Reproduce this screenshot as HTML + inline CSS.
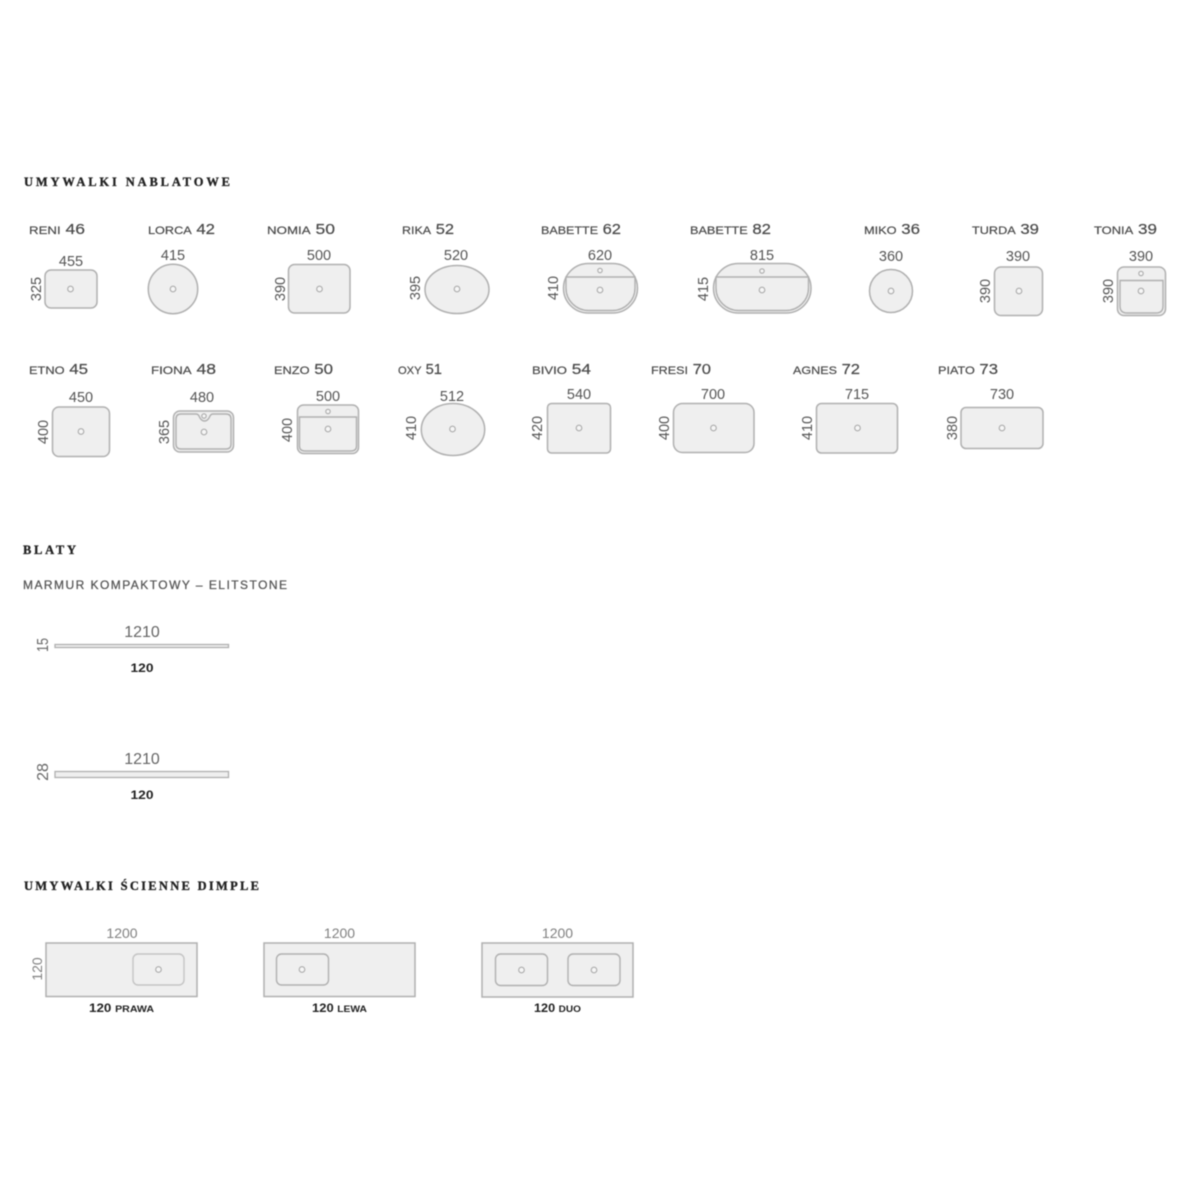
<!DOCTYPE html>
<html lang="pl">
<head>
<meta charset="utf-8">
<title>Umywalki</title>
<style>
html,body{margin:0;padding:0;background:#fff;width:1200px;height:1200px;overflow:hidden}
svg{display:block;filter:blur(.45px)}
text{font-family:"Liberation Sans",sans-serif;fill:#4a4a4a}
.h{font-family:"Liberation Serif",serif;font-weight:700;font-size:12.5px;fill:#222;stroke:#222;stroke-width:.3}
.n{font-size:14.5px;stroke:#4a4a4a;stroke-width:.2}
.n tspan{font-size:11px}
.t{font-size:12px;fill:#555;stroke:#555;stroke-width:.25}
.d{font-size:14.5px;text-anchor:middle;fill:#555}
.l{font-size:16px;text-anchor:middle;fill:#666}
.m{font-size:14px;text-anchor:middle;fill:#808080}
.b{font-size:12px;font-weight:700;text-anchor:middle;fill:#222}
.b tspan{font-size:9.5px}
.s{fill:#efefef;stroke:#b0b0b0;stroke-width:1.5}
.i{fill:none;stroke:#b0b0b0;stroke-width:1.4}
.o{fill:#f6f6f6;stroke:#aaa;stroke-width:1.1}
</style>
</head>
<body>
<svg xmlns="http://www.w3.org/2000/svg" width="1200" height="1200" viewBox="0 0 1200 1200">
<rect width="1200" height="1200" fill="#fff"/>

<!-- Headings -->
<text class="h" x="24" y="186" textLength="206">UMYWALKI NABLATOWE</text>
<text class="h" x="23" y="554" textLength="53">BLATY</text>
<text class="t" x="23" y="589" textLength="264">MARMUR KOMPAKTOWY – ELITSTONE</text>
<text class="h" x="24" y="890" textLength="235">UMYWALKI ŚCIENNE DIMPLE</text>

<!-- Row 1 names -->
<text class="n" x="29" y="234" textLength="56" lengthAdjust="spacingAndGlyphs"><tspan>RENI</tspan> 46</text>
<text class="n" x="148" y="234" textLength="67" lengthAdjust="spacingAndGlyphs"><tspan>LORCA</tspan> 42</text>
<text class="n" x="267" y="234" textLength="68" lengthAdjust="spacingAndGlyphs"><tspan>NOMIA</tspan> 50</text>
<text class="n" x="402" y="234" textLength="52" lengthAdjust="spacingAndGlyphs"><tspan>RIKA</tspan> 52</text>
<text class="n" x="541" y="234" textLength="80" lengthAdjust="spacingAndGlyphs"><tspan>BABETTE</tspan> 62</text>
<text class="n" x="690" y="234" textLength="81" lengthAdjust="spacingAndGlyphs"><tspan>BABETTE</tspan> 82</text>
<text class="n" x="864" y="234" textLength="56" lengthAdjust="spacingAndGlyphs"><tspan>MIKO</tspan> 36</text>
<text class="n" x="972" y="234" textLength="67" lengthAdjust="spacingAndGlyphs"><tspan>TURDA</tspan> 39</text>
<text class="n" x="1094" y="234" textLength="63" lengthAdjust="spacingAndGlyphs"><tspan>TONIA</tspan> 39</text>

<!-- Row 2 names -->
<text class="n" x="29" y="374" textLength="59" lengthAdjust="spacingAndGlyphs"><tspan>ETNO</tspan> 45</text>
<text class="n" x="151" y="374" textLength="65" lengthAdjust="spacingAndGlyphs"><tspan>FIONA</tspan> 48</text>
<text class="n" x="274" y="374" textLength="59" lengthAdjust="spacingAndGlyphs"><tspan>ENZO</tspan> 50</text>
<text class="n" x="398" y="374" textLength="44" lengthAdjust="spacingAndGlyphs"><tspan>OXY</tspan> 51</text>
<text class="n" x="532" y="374" textLength="59" lengthAdjust="spacingAndGlyphs"><tspan>BIVIO</tspan> 54</text>
<text class="n" x="651" y="374" textLength="60" lengthAdjust="spacingAndGlyphs"><tspan>FRESI</tspan> 70</text>
<text class="n" x="793" y="374" textLength="67" lengthAdjust="spacingAndGlyphs"><tspan>AGNES</tspan> 72</text>
<text class="n" x="938" y="374" textLength="60" lengthAdjust="spacingAndGlyphs"><tspan>PIATO</tspan> 73</text>

<!-- Row 1 widths -->
<text class="d" x="71" y="266">455</text>
<text class="d" x="173" y="260">415</text>
<text class="d" x="319" y="260">500</text>
<text class="d" x="456" y="260">520</text>
<text class="d" x="600" y="260">620</text>
<text class="d" x="762" y="260">815</text>
<text class="d" x="891" y="261">360</text>
<text class="d" x="1018" y="261">390</text>
<text class="d" x="1141" y="261">390</text>

<!-- Row 1 heights -->
<text class="d" transform="translate(41,289) rotate(-90)">325</text>
<text class="d" transform="translate(285,289) rotate(-90)">390</text>
<text class="d" transform="translate(420,288) rotate(-90)">395</text>
<text class="d" transform="translate(558,288) rotate(-90)">410</text>
<text class="d" transform="translate(708,289) rotate(-90)">415</text>
<text class="d" transform="translate(990,291) rotate(-90)">390</text>
<text class="d" transform="translate(1113,291) rotate(-90)">390</text>

<!-- Row 2 widths -->
<text class="d" x="81" y="402">450</text>
<text class="d" x="202" y="402">480</text>
<text class="d" x="328" y="401">500</text>
<text class="d" x="452" y="401">512</text>
<text class="d" x="579" y="399">540</text>
<text class="d" x="713" y="399">700</text>
<text class="d" x="857" y="399">715</text>
<text class="d" x="1002" y="399">730</text>

<!-- Row 2 heights -->
<text class="d" transform="translate(48,432) rotate(-90)">400</text>
<text class="d" transform="translate(169,432) rotate(-90)">365</text>
<text class="d" transform="translate(292,430) rotate(-90)">400</text>
<text class="d" transform="translate(416,428) rotate(-90)">410</text>
<text class="d" transform="translate(542,428) rotate(-90)">420</text>
<text class="d" transform="translate(669,428) rotate(-90)">400</text>
<text class="d" transform="translate(812,428) rotate(-90)">410</text>
<text class="d" transform="translate(957,428) rotate(-90)">380</text>

<!-- Row 1 shapes -->
<rect class="s" x="45" y="270" width="52" height="38" rx="6"/>
<circle class="o" cx="70.5" cy="289" r="2.8"/>

<circle class="s" cx="173" cy="289" r="24.7"/>
<circle class="o" cx="173" cy="289" r="2.8"/>

<rect class="s" x="288.5" y="264.5" width="61.5" height="48.5" rx="6"/>
<circle class="o" cx="319.5" cy="289" r="2.8"/>

<ellipse class="s" cx="457" cy="289.5" rx="32" ry="24"/>
<circle class="o" cx="457" cy="289" r="2.8"/>

<rect class="s" x="563.5" y="263.5" width="74" height="49.5" rx="24.7"/>
<path class="i" d="M566 277H635V288A22.500 22.500 0 0 1 612.500 310.500H588.500A22.500 22.500 0 0 1 566 288Z"/>
<circle class="o" cx="600" cy="270.500" r="2.200"/>
<circle class="o" cx="600" cy="290" r="2.800"/>

<rect class="s" x="713.500" y="263.500" width="97.500" height="49.500" rx="24.700"/>
<path class="i" d="M716 277H808.500V288A22.500 22.500 0 0 1 786 310.500H738.500A22.500 22.500 0 0 1 716 288Z"/>
<circle class="o" cx="762" cy="271" r="2.200"/>
<circle class="o" cx="762" cy="290" r="2.800"/>

<circle class="s" cx="891" cy="291" r="21.500"/>
<circle class="o" cx="891" cy="291" r="2.800"/>

<rect class="s" x="994.500" y="267" width="48" height="48.500" rx="6.500"/>
<circle class="o" cx="1019" cy="291" r="2.800"/>

<rect class="s" x="1117.500" y="267" width="48" height="48.500" rx="6.500"/>
<path class="i" d="M1120 280.500H1163V306Q1163 313 1156 313H1127Q1120 313 1120 306Z"/>
<circle class="o" cx="1141" cy="273.500" r="2.200"/>
<circle class="o" cx="1141" cy="291" r="2.800"/>

<!-- Row 2 shapes -->
<rect class="s" x="52.500" y="407" width="57" height="49.500" rx="6.500"/>
<circle class="o" cx="81" cy="431.500" r="2.800"/>

<rect class="s" x="173.500" y="411" width="60" height="41" rx="6.500"/>
<path class="i" d="M181 414H196Q198 414 199 416Q201 421 204.500 421Q208 421 210 416Q211 414 213 414H226Q231 414 231 419V444Q231 449 226 449H181Q176 449 176 444V419Q176 414 181 414Z"/>
<circle class="o" cx="204" cy="416" r="2.200"/>
<circle class="o" cx="204" cy="432" r="2.800"/>

<rect class="s" x="297.500" y="405" width="61" height="48.500" rx="6"/>
<path class="i" d="M299.500 417H356.500V446Q356.500 451 351 451H305Q299.500 451 299.500 446Z"/>
<circle class="o" cx="328" cy="411.500" r="2.200"/>
<circle class="o" cx="328" cy="429" r="2.800"/>

<ellipse class="s" cx="453" cy="429.500" rx="31.700" ry="26"/>
<circle class="o" cx="452.500" cy="429" r="2.800"/>

<rect class="s" x="547.500" y="403.500" width="63" height="49.500" rx="4"/>
<circle class="o" cx="579" cy="428" r="2.800"/>

<rect class="s" x="673.500" y="403.500" width="80.500" height="49" rx="9"/>
<circle class="o" cx="713.500" cy="428" r="2.800"/>

<rect class="s" x="816.500" y="403.500" width="81" height="49.500" rx="5"/>
<circle class="o" cx="857.500" cy="428" r="2.800"/>

<rect class="s" x="961" y="407.500" width="82" height="41" rx="5"/>
<circle class="o" cx="1002" cy="428" r="2.800"/>

<!-- Blaty -->
<text class="l" x="142" y="637">1210</text>
<text class="l" transform="translate(48,645) rotate(-90)" textLength="14" lengthAdjust="spacingAndGlyphs">15</text>
<rect x="55" y="644.500" width="173.500" height="3" fill="#efefef" stroke="#b0b0b0" stroke-width="1.300"/>
<text class="b" x="142" y="672" textLength="23" lengthAdjust="spacingAndGlyphs">120</text>

<text class="l" x="142" y="764">1210</text>
<text class="l" transform="translate(48,772) rotate(-90)">28</text>
<rect x="55" y="771.500" width="173.500" height="6" fill="#efefef" stroke="#b0b0b0" stroke-width="1.300"/>
<text class="b" x="142" y="799" textLength="23" lengthAdjust="spacingAndGlyphs">120</text>

<!-- Dimple -->
<text class="m" x="122" y="938">1200</text>
<text class="m" transform="translate(42,969) rotate(-90)">120</text>
<rect class="s" x="46" y="943" width="151" height="53.500"/>
<rect class="i" style="stroke:#c4c4c4" x="133" y="954" width="51" height="31" rx="5"/>
<circle class="o" cx="158.500" cy="969.500" r="2.800"/>
<text class="b" x="121.500" y="1012" textLength="65" lengthAdjust="spacingAndGlyphs"><tspan style="font-size:12px">120</tspan> <tspan>PRAWA</tspan></text>

<text class="m" x="339.500" y="938">1200</text>
<rect class="s" x="264" y="943" width="151" height="53.500"/>
<rect class="i" x="276.500" y="954" width="52" height="31" rx="5"/>
<circle class="o" cx="302" cy="969.500" r="2.800"/>
<text class="b" x="339.500" y="1012" textLength="55" lengthAdjust="spacingAndGlyphs"><tspan style="font-size:12px">120</tspan> <tspan>LEWA</tspan></text>

<text class="m" x="557.500" y="938">1200</text>
<rect class="s" x="482" y="943" width="151" height="54"/>
<rect class="i" x="495.500" y="954" width="52" height="31.500" rx="5"/>
<circle class="o" cx="521.500" cy="970" r="2.800"/>
<rect class="i" x="568" y="954" width="52" height="31.500" rx="5"/>
<circle class="o" cx="594" cy="970" r="2.800"/>
<text class="b" x="557.500" y="1012" textLength="47" lengthAdjust="spacingAndGlyphs"><tspan style="font-size:12px">120</tspan> <tspan>DUO</tspan></text>
</svg>
</body>
</html>
